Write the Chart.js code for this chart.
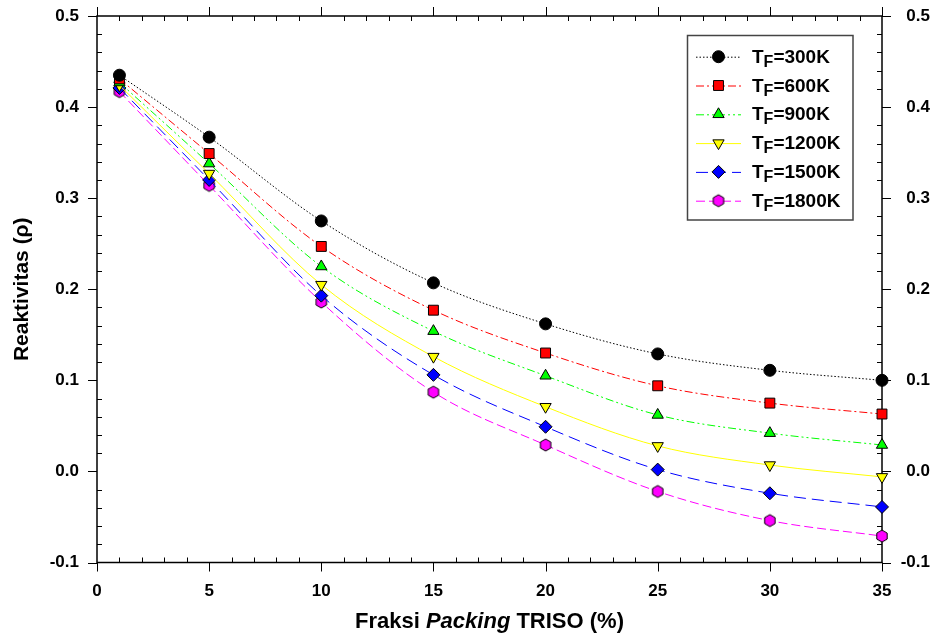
<!DOCTYPE html>
<html>
<head>
<meta charset="utf-8">
<script src="https://cdn.jsdelivr.net/npm/chart.js@4/dist/chart.umd.min.js"></script>
<style>
  html, body { margin: 0; padding: 0; background: #fff; }
  #wrap { width: 930px; height: 637px; }
</style>
</head>
<body>
<div id="wrap"><canvas id="chart" width="930" height="637"></canvas></div>
<script>
// packing fraction (%)
const packing = [1, 5, 10, 15, 20, 25, 30, 35];

// reactivity per fuel temperature
const rho300 = [0.435, 0.367, 0.275, 0.207, 0.162, 0.129, 0.111, 0.100];
const rho600 = [0.431, 0.349, 0.247, 0.177, 0.130, 0.094, 0.075, 0.063];
const rho900 = [0.427, 0.338, 0.225, 0.154, 0.105, 0.062, 0.042, 0.029];
const rho1200 = [0.424, 0.327, 0.205, 0.126, 0.071, 0.028, 0.007, -0.006];
const rho1500 = [0.421, 0.320, 0.193, 0.106, 0.049, 0.002, -0.024, -0.039];
const rho1800 = [0.417, 0.314, 0.186, 0.087, 0.029, -0.022, -0.054, -0.071];

const temps = ['300K', '600K', '900K', '1200K', '1500K', '1800K'];

const xTicks = [0, 5, 10, 15, 20, 25, 30, 35];
const yTicks = [-0.1, 0.0, 0.1, 0.2, 0.3, 0.4, 0.5];

const FONT = '"Liberation Sans", Arial, sans-serif';

// hexagon marker (no built-in style for it)
function hexagon(r, fill) {
  const s = Math.ceil(2 * r + 4);
  const c = document.createElement('canvas');
  c.width = s; c.height = s;
  const g = c.getContext('2d');
  g.beginPath();
  for (let k = 0; k < 6; k++) {
    const a = Math.PI / 2 + k * Math.PI / 3;
    const px = s / 2 + r * Math.cos(a), py = s / 2 + r * Math.sin(a);
    if (k) g.lineTo(px, py); else g.moveTo(px, py);
  }
  g.closePath();
  g.fillStyle = fill; g.fill();
  g.strokeStyle = '#000'; g.lineWidth = 1; g.stroke();
  return c;
}

function pts(arr) {
  return packing.map((v, i) => ({ x: v, y: arr[i] }));
}

function series(label, arr, color, dash, style, radius, rotation) {
  return {
    label: label,
    data: pts(arr),
    borderColor: color,
    borderWidth: 1,
    borderDash: dash,
    backgroundColor: color,
    pointBackgroundColor: color,
    pointBorderColor: '#000',
    pointBorderWidth: 1,
    pointStyle: style,
    pointRadius: radius,
    pointRotation: rotation || 0,
    cubicInterpolationMode: 'monotone',
    clip: false
  };
}

const datasets = [
  series(temps[0], rho300, '#000000', [1.5, 2], 'circle', 6),
  series(temps[1], rho600, '#ff0000', [8, 3, 2, 3], 'rect', 7),
  series(temps[2], rho900, '#00ff00', [8, 3, 2, 3, 2, 3], 'triangle', 6.5),
  series(temps[3], rho1200, '#ffff00', [], 'triangle', 6.5, 180),
  series(temps[4], rho1500, '#0000ff', [12, 6], 'rectRot', 6.5),
  series(temps[5], rho1800, '#ff00ff', [9, 4], hexagon(6, '#ff00ff'), 6)
];

// frame with outward major ticks and inward minor ticks
const framePlugin = {
  id: 'frame',
  beforeDatasetsDraw(chart) {
    const { ctx, chartArea: a, scales } = chart;
    const sx = scales.x, sy = scales.y;
    ctx.save();
    ctx.strokeStyle = '#000';
    ctx.lineWidth = 1;
    ctx.beginPath();
    for (let v = 0; v <= 35; v++) {
      const px = Math.round(sx.getPixelForValue(v)) + 0.5;
      if (v % 5 === 0) {
        ctx.moveTo(px, a.bottom); ctx.lineTo(px, a.bottom + 9);
        ctx.moveTo(px, a.top); ctx.lineTo(px, a.top - 9);
      } else {
        ctx.moveTo(px, a.bottom); ctx.lineTo(px, a.bottom - 5);
        ctx.moveTo(px, a.top); ctx.lineTo(px, a.top + 5);
      }
    }
    for (let i = 0; i <= 30; i++) {
      const py = Math.round(sy.getPixelForValue(-0.1 + i * 0.02)) + 0.5;
      if (i % 5 === 0) {
        ctx.moveTo(a.left, py); ctx.lineTo(a.left - 9, py);
        ctx.moveTo(a.right, py); ctx.lineTo(a.right + 9, py);
      } else {
        ctx.moveTo(a.left, py); ctx.lineTo(a.left + 5, py);
        ctx.moveTo(a.right, py); ctx.lineTo(a.right - 5, py);
      }
    }
    ctx.stroke();
    ctx.lineWidth = 1.5;
    ctx.strokeRect(a.left, a.top, a.right - a.left, a.bottom - a.top);
    ctx.restore();
  },
  afterDraw(chart) {
    const { ctx, chartArea: a } = chart;
    ctx.save();
    ctx.fillStyle = '#000';

    // x title with italic word
    const parts = [
      ['bold 22px ' + FONT, 'Fraksi '],
      ['italic bold 22px ' + FONT, 'Packing'],
      ['bold 22px ' + FONT, ' TRISO (%)']
    ];
    let total = 0;
    parts.forEach(p => { ctx.font = p[0]; total += ctx.measureText(p[1]).width; });
    let tx = (a.left + a.right) / 2 - total / 2;
    ctx.textBaseline = 'alphabetic';
    ctx.textAlign = 'left';
    parts.forEach(p => {
      ctx.font = p[0];
      ctx.fillText(p[1], tx, 628);
      tx += ctx.measureText(p[1]).width;
    });

    // y title
    ctx.save();
    ctx.translate(28, (a.top + a.bottom) / 2);
    ctx.rotate(-Math.PI / 2);
    ctx.font = 'bold 21px ' + FONT;
    ctx.textAlign = 'center';
    ctx.fillText('Reaktivitas (\u03c1)', 0, 0);
    ctx.restore();

    // legend
    const box = { left: 687.5, top: 35.5, right: 853, bottom: 220 };
    ctx.fillStyle = '#fff';
    ctx.fillRect(box.left, box.top, box.right - box.left, box.bottom - box.top);
    ctx.strokeStyle = '#444';
    ctx.lineWidth = 1.5;
    ctx.strokeRect(box.left, box.top, box.right - box.left, box.bottom - box.top);
    chart.data.datasets.forEach((ds, i) => {
      const y = 56.7 + i * 28.8;
      ctx.strokeStyle = ds.borderColor;
      ctx.lineWidth = 1;
      ctx.setLineDash(ds.borderDash);
      ctx.beginPath();
      ctx.moveTo(696, y + 0.5); ctx.lineTo(741, y + 0.5);
      ctx.stroke();
      ctx.setLineDash([]);
      ctx.fillStyle = ds.pointBackgroundColor;
      ctx.strokeStyle = '#000';
      ctx.lineWidth = 1;
      Chart.helpers.drawPoint(ctx, {
        pointStyle: ds.pointStyle,
        radius: ds.pointRadius,
        rotation: ds.pointRotation,
        borderWidth: 1
      }, 718.5, y);
      ctx.fillStyle = '#000';
      let x = 752;
      ctx.font = 'bold 19px ' + FONT;
      ctx.fillText('T', x, y + 6);
      x += ctx.measureText('T').width;
      ctx.font = 'bold 16px ' + FONT;
      ctx.fillText('F', x, y + 10);
      x += ctx.measureText('F').width;
      ctx.font = 'bold 19px ' + FONT;
      ctx.fillText('=' + ds.label, x, y + 6);
    });
    ctx.restore();
  }
};

const tickFont = { family: FONT, size: 17, weight: 'bold' };

function noPad(s) {
  s.paddingTop = 0; s.paddingBottom = 0;
}

new Chart(document.getElementById('chart'), {
  type: 'line',
  data: { datasets: datasets },
  options: {
    responsive: false,
    animation: false,
    events: [],
    layout: { padding: { top: 16, left: 0, right: 0, bottom: 0 } },
    plugins: { legend: { display: false }, tooltip: { enabled: false } },
    scales: {
      x: {
        type: 'linear',
        position: 'bottom',
        min: 0, max: 35,
        grid: { display: false },
        border: { display: false },
        afterBuildTicks: s => { s.ticks = xTicks.map(v => ({ value: v })); },
        afterFit: s => { s.height = 74.5; s.paddingLeft = 0; s.paddingRight = 0; },
        ticks: { font: tickFont, color: '#000', padding: 11, maxRotation: 0,
          callback: v => String(v) }
      },
      y: {
        type: 'linear',
        position: 'left',
        min: -0.1, max: 0.5,
        grid: { display: false },
        border: { display: false },
        afterBuildTicks: s => { s.ticks = yTicks.map(v => ({ value: v })); },
        afterFit: s => { s.width = 97; noPad(s); },
        ticks: { font: tickFont, color: '#000', padding: 10,
          callback: v => v.toFixed(1) }
      },
      y2: {
        type: 'linear',
        position: 'right',
        min: -0.1, max: 0.5,
        grid: { display: false },
        border: { display: false },
        afterBuildTicks: s => { s.ticks = yTicks.map(v => ({ value: v })); },
        afterFit: s => { s.width = 48; noPad(s); },
        ticks: { font: tickFont, color: '#000', padding: 10, crossAlign: 'far',
          callback: v => v.toFixed(1) }
      }
    }
  },
  plugins: [framePlugin]
});
</script>
</body>
</html>
